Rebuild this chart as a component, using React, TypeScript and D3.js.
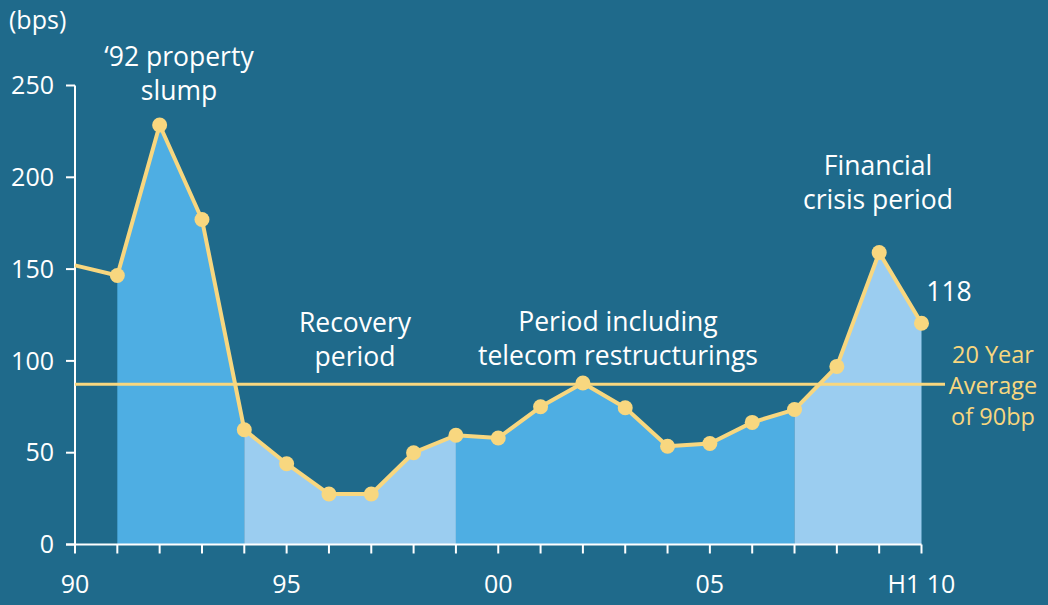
import React from 'react';
import * as d3 from 'd3';

// spread, bps — first point (1990) has no marker in the original
const years = [1990, 1991, 1992, 1993, 1994, 1995, 1996, 1997, 1998, 1999, 2000,
  2001, 2002, 2003, 2004, 2005, 2006, 2007, 2008, 2009, 2010];
const spreads = [152, 146.5, 228.5, 177, 62.5, 44, 27.5, 27.5, 50, 59.5, 58,
  75, 88, 74.5, 53.5, 55, 66.5, 73.5, 97, 159, 120.5];
const average = 87.3;

// shaded periods [from, to, kind]
const periods: [number, number, string][] = [
  [1991, 1994, 'dark'],
  [1994, 1999, 'light'],
  [1999, 2007, 'dark'],
  [2007, 2010, 'light'],
];

const yTicks = [0, 50, 100, 150, 200, 250];
const xLabels: [number, string][] = [[1990, '90'], [1995, '95'], [2000, '00'], [2005, '05'], [2010, 'H1 10']];

const W = 1048;
const H = 605;
const BG = '#1f6a8b';
const YELLOW = '#f8d77f';
const FILL: Record<string, string> = { dark: '#4eaee3', light: '#9bcdf0' };
const FONT = '"Open Sans", "Noto Sans", sans-serif';

export default function App() {
  const x = d3.scaleLinear().domain([1990, 2010]).range([75, 921.5]);
  const y = d3.scaleLinear().domain([0, 250]).range([544.5, 85.5]);

  const pts = years.map((yr, i) => ({ yr, v: spreads[i] }));

  const area = d3.area<{ yr: number; v: number }>()
    .x(d => x(d.yr))
    .y0(y(0))
    .y1(d => y(d.v));

  const line = d3.line<{ yr: number; v: number }>()
    .x(d => x(d.yr))
    .y(d => y(d.v));

  const annotations = [
    { lines: ['\u201892 property', 'slump'], cx: 179, y0: 66 },
    { lines: ['Recovery', 'period'], cx: 355, y0: 332 },
    { lines: ['Period including', 'telecom restructurings'], cx: 618, y0: 331 },
    { lines: ['Financial', 'crisis period'], cx: 878, y0: 175 },
  ];

  return (
    <svg width={W} height={H} style={{ position: 'absolute', left: 0, top: 0 }}
      fontFamily={FONT}>
      <rect width={W} height={H} fill={BG} />

      {periods.map(([a, b, kind], i) => (
        <path key={i} d={area(pts.filter(p => p.yr >= a && p.yr <= b)) || ''}
          fill={FILL[kind]} />
      ))}

      {/* y axis */}
      <line x1={x(1990)} x2={x(1990)} y1={y(250)} y2={y(0)} stroke="#fff" strokeWidth={2} />
      {yTicks.map(t => (
        <g key={t}>
          <line x1={66} x2={x(1990)} y1={y(t)} y2={y(t)} stroke="#fff" strokeWidth={2} />
          <text x={54} y={y(t)} dy="0.35em" textAnchor="end" fill="#fff" fontSize={25}>{t}</text>
        </g>
      ))}

      {/* x axis */}
      <line x1={66} x2={x(2010)} y1={y(0)} y2={y(0)} stroke="#fff" strokeWidth={2} />
      {years.map(yr => (
        <line key={yr} x1={x(yr)} x2={x(yr)} y1={y(0)} y2={y(0) + 9} stroke="#fff" strokeWidth={2} />
      ))}
      {xLabels.map(([yr, lab]) => (
        <text key={yr} x={x(yr)} y={593} textAnchor="middle" fill="#fff" fontSize={25}>{lab}</text>
      ))}

      {/* 20 year average */}
      <line x1={x(1990)} x2={945} y1={y(average)} y2={y(average)} stroke={YELLOW} strokeWidth={3} />

      <path d={line(pts) || ''} fill="none" stroke={YELLOW} strokeWidth={4} strokeLinejoin="round" />
      {pts.slice(1).map(p => (
        <circle key={p.yr} cx={x(p.yr)} cy={y(p.v)} r={7.5} fill={YELLOW} />
      ))}

      <text x={9} y={29} fill="#fff" fontSize={25}>(bps)</text>

      {annotations.map((a, i) => (
        <text key={i} x={a.cx} y={a.y0} textAnchor="middle" fill="#fff" fontSize={26.5}>
          {a.lines.map((l, j) => (
            <tspan key={j} x={a.cx} y={a.y0 + j * 33.5}>{l}</tspan>
          ))}
        </text>
      ))}

      <text x={949} y={301} textAnchor="middle" fill="#fff" fontSize={26.5}>118</text>

      <text x={993} y={363} textAnchor="middle" fill={YELLOW} fontSize={23.5}>
        <tspan x={993} y={363}>20 Year</tspan>
        <tspan x={993} y={394}>Average</tspan>
        <tspan x={993} y={425}>of 90bp</tspan>
      </text>
    </svg>
  );
}
